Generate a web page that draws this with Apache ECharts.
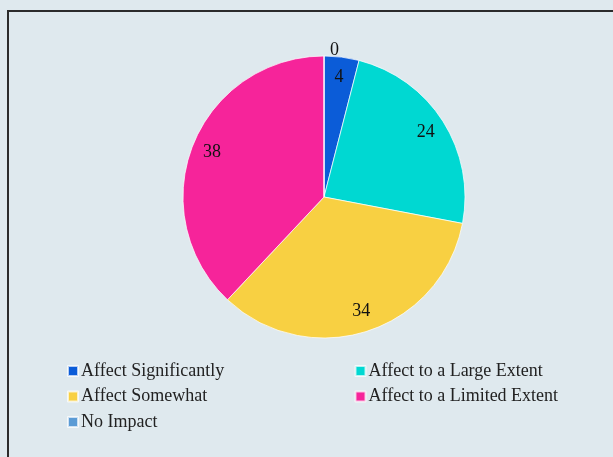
<!DOCTYPE html>
<html><head><meta charset="utf-8">
<script src="https://cdn.jsdelivr.net/npm/echarts@6/dist/echarts.min.js"></script>
<style>
html,body{margin:0;padding:0;background:#dfe9ee;}
#frame{position:absolute;left:7px;top:10px;width:620px;height:460px;border-left:2px solid #2b2b2b;border-top:2px solid #2b2b2b;}
#chart{position:absolute;left:0;top:0;width:613px;height:457px;}
</style></head>
<body>
<div id="frame"></div>
<div id="chart"></div>
<script>
const categories = ['Affect Significantly','Affect to a Large Extent','Affect Somewhat','Affect to a Limited Extent','No Impact'];
const values = [4, 24, 34, 38, 0];
const colors = ['#0b5cd8','#00d8d2','#f8d042','#f6249a','#5b9bd5'];

const chart = echarts.init(document.getElementById('chart'));
const visualData = categories.map((c,i)=>({name:c,value:values[i],itemStyle:{color:colors[i]}}));
const labelData = categories.map((c,i)=>{
  const d = {name:c,value:values[i]};
  if (values[i]===0) d.label = {position:'outside', offset:[1,-6]};
  return d;
});
chart.setOption({
  backgroundColor:'transparent',
  color: colors,
  legend:{
    left:62, top:357, width:610, orient:'horizontal',
    itemWidth:10, itemHeight:10, itemGap:7.5,
    icon:'rect',
    data:categories,
    textStyle:{fontFamily:'Liberation Serif', fontSize:18, color:'#222', width:266, lineHeight:16, padding:[0,0,0,-2]}
  },
  series:[
    {type:'pie', center:[324,197], radius:141, startAngle:90, clockwise:true,
     avoidLabelOverlap:false, label:{show:false}, labelLine:{show:false},
     itemStyle:{borderColor:'rgba(255,255,255,0.7)', borderWidth:1},
     data: visualData, emphasis:{disabled:true}},
    {type:'pie', center:[324,197], radius:[94,141], startAngle:90, clockwise:true,
     avoidLabelOverlap:false, silent:true,
     itemStyle:{color:'rgba(0,0,0,0)'},
     label:{show:true, position:'inside', formatter:'{c}', fontFamily:'Liberation Serif', fontSize:18, color:'#111'},
     labelLine:{show:false, length:0, length2:0},
     data: labelData, emphasis:{disabled:true}}
  ]
});
</script>
</body></html>
